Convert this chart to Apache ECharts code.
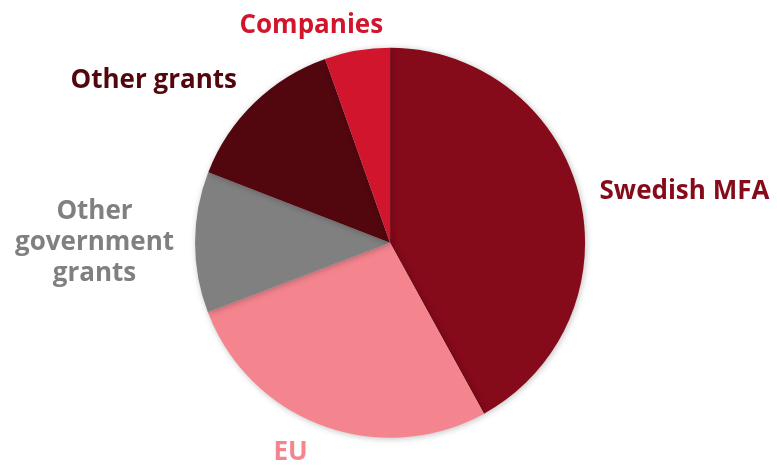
<!DOCTYPE html>
<html>
<head>
<meta charset="utf-8">
<script src="https://cdn.jsdelivr.net/npm/echarts@6/dist/echarts.min.js"></script>
<style>html,body{margin:0;padding:0;background:#fff}#c{width:777px;height:466px}</style>
</head>
<body>
<div id="c"></div>
<script>
var categories = ['Swedish MFA', 'EU', 'Other government grants', 'Other grants', 'Companies'];
var values = [42.0, 27.2, 11.7, 13.7, 5.4];
var colors = ['#850A1A', '#F4858F', '#808080', '#52070F', '#D0152D'];

// label nudges (px) per slice, applied after the library's own outside-label layout
var labelNudge = [[0, 0], [-2, 15], [0, 0], [0, -14], [37, -13]];

var chart = echarts.init(document.getElementById('c'));
chart.setOption({
  animation: false,
  series: [{
    type: 'pie',
    center: ['50.2%', '52.1%'],
    radius: 195,
    startAngle: 90,
    clockwise: true,
    avoidLabelOverlap: false,
    itemStyle: { shadowBlur: 6, shadowColor: 'rgba(0,0,0,0.25)', shadowOffsetX: 1, shadowOffsetY: 1 },
    label: {
      show: true,
      position: 'outside',
      fontFamily: 'Open Sans',
      fontWeight: 'bold',
      fontSize: 26,
      lineHeight: 31,
      color: 'inherit'
    },
    labelLine: { show: false, length: 12, length2: 4 },
    labelLayout: function (p) {
      var n = labelNudge[p.dataIndex];
      return { dx: n[0], dy: n[1] };
    },
    emphasis: { disabled: true },
    data: categories.map(function (c, i) {
      var item = { name: c, value: values[i], itemStyle: { color: colors[i] }, label: { color: colors[i] } };
      if (i === 2) {
        item.label.formatter = '{c|Other}\n{c|government}\n{c|grants}';
        item.label.rich = { c: { align: 'center', color: colors[i], fontFamily: 'Open Sans', fontWeight: 'bold', fontSize: 26, lineHeight: 31 } };
      }
      return item;
    })
  }]
});
</script>
</body>
</html>
